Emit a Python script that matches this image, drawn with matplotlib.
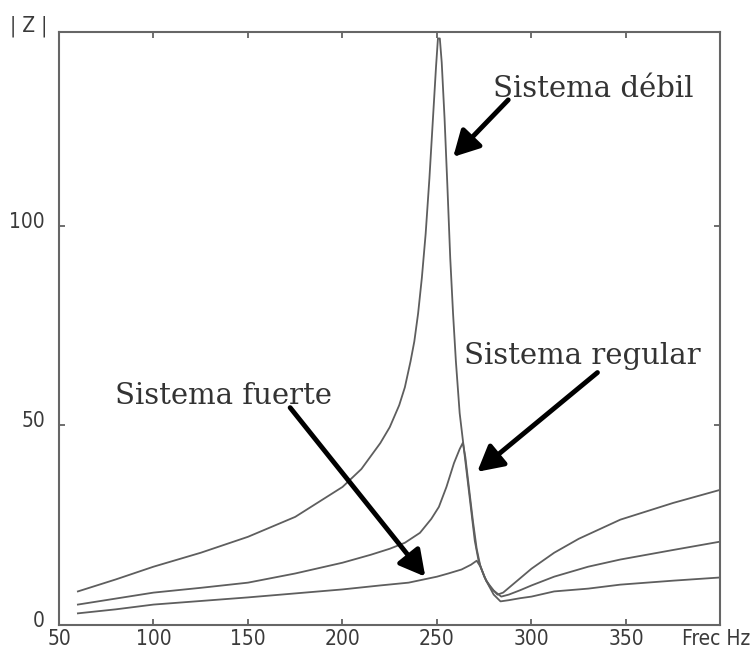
import matplotlib
matplotlib.use("Agg")
import matplotlib.pyplot as plt
from matplotlib.transforms import ScaledTranslation

# ---- data ----
debil_f = [60, 80, 100, 125, 150, 175, 200, 210, 220, 225, 230, 233, 236, 238, 240, 242, 244,
           246, 248, 249.5, 250.5, 251.5, 252.5, 254, 255.5, 257, 258.5, 260, 262, 264, 266,
           268, 270, 272, 275, 278, 282, 285, 290, 295, 300, 312, 325, 347, 375, 400]
debil_z = [8.3, 11.3, 14.5, 18, 22, 27, 34.5, 39, 45.5, 49.5, 55, 59.5, 66, 71, 78, 87, 98,
           112, 128, 140, 147, 147, 141, 127, 110, 92, 78, 66, 53, 45, 37,
           29, 21, 16, 12, 9.5, 7.5, 8, 10, 12, 14, 18, 21.5, 26.3, 30.5, 33.8]

regular_f = [60, 80, 100, 125, 150, 175, 200, 215, 225, 233, 241, 247, 251, 255, 259, 262,
             263.7, 265, 267, 269, 271, 273, 276, 280, 284, 288, 294, 300, 312, 330, 347, 375, 400]
regular_z = [5, 6.5, 8, 9.2, 10.5, 12.8, 15.5, 17.5, 19, 20.5, 23, 26.5, 29.5, 34.5, 40.5, 44,
             45.6, 42, 34, 26, 19, 14.5, 11, 8.5, 7, 7.5, 8.6, 9.8, 12, 14.5, 16.3, 18.7, 20.8]

fuerte_f = [60, 80, 100, 125, 150, 175, 200, 220, 235, 242, 250, 256, 263, 268, 271, 273,
            276, 280, 283.6, 288, 294, 300, 312, 330, 347, 375, 400]
fuerte_z = [2.8, 3.8, 5, 5.9, 6.8, 7.8, 8.8, 9.8, 10.5, 11.2, 12, 12.8, 13.8, 15, 16, 14.5,
            11, 7.5, 5.8, 6.1, 6.6, 7, 8.3, 9, 10, 11, 11.8]

xtick_values = [50, 100, 150, 200, 250, 300, 350, 400]
xtick_labels = ["50", "100", "150", "200", "250", "300", "350", "Frec Hz"]
ytick_values = [0, 50, 100]
ytick_labels = ["0", "50", "100"]
y_axis_label = "| Z |"

labels = ["Sistema débil", "Sistema regular", "Sistema fuerte"]

# ---- figure ----
fig = plt.figure(figsize=(7.54, 6.53), dpi=100)
ax = fig.add_axes([0.07825, 0.04364, 0.8773, 0.9066])

line_color = "#5e5e5e"
for f, z in [(debil_f, debil_z), (regular_f, regular_z), (fuerte_f, fuerte_z)]:
    ax.plot(f, z, color=line_color, lw=1.3, solid_joinstyle="round")

ax.set_xlim(50, 400)
ax.set_ylim(0, 148.5)

tick_font = dict(family="DejaVu Sans", stretch="condensed", size=15, color="#3a3a3a")
ax.set_xticks(xtick_values)
ax.set_xticklabels(xtick_labels, **tick_font)
ax.set_yticks(ytick_values)
ax.set_yticklabels(ytick_labels, **tick_font)
ax.tick_params(direction="in", length=4, width=1.2, color="#555555",
               top=True, right=True)
ax.tick_params(axis="x", pad=3)
ax.tick_params(axis="y", pad=10)
offset = ScaledTranslation(0, 6 / 100, fig.dpi_scale_trans)
for lab in ax.get_yticklabels():
    lab.set_transform(lab.get_transform() + offset)
xl = ax.get_xticklabels()
xl[-1].set_transform(xl[-1].get_transform() + ScaledTranslation(-4 / 100, 0, fig.dpi_scale_trans))

for s in ax.spines.values():
    s.set_color("#666666")
    s.set_linewidth(1.5)

ax.annotate(y_axis_label, xy=(0, 1), xycoords="axes fraction",
            xytext=(-12, 6), textcoords="offset pixels",
            ha="right", va="center", **tick_font)

text_font = dict(family="DejaVu Serif", size=21, color="#333333")
arrow = dict(arrowstyle="-|>,head_length=0.7,head_width=0.38", lw=3.5,
             color="black", mutation_scale=22, shrinkA=0, shrinkB=0)

# Sistema débil
ax.text(279.6, 132.3, labels[0], ha="left", va="baseline", **text_font)
ax.annotate("", xy=(258.6, 117.3), xytext=(287.7, 131.6), arrowprops=arrow)
# Sistema regular
ax.text(264.1, 65.3, labels[1], ha="left", va="baseline", **text_font)
ax.annotate("", xy=(271.3, 38.3), xytext=(334.9, 63.2), arrowprops=arrow)
# Sistema fuerte
ax.text(79.7, 55.4, labels[2], ha="left", va="baseline", **text_font)
ax.annotate("", xy=(243.8, 12.0), xytext=(172.3, 54.4), arrowprops=arrow)

fig.savefig("out.png", dpi=100, facecolor="white")
